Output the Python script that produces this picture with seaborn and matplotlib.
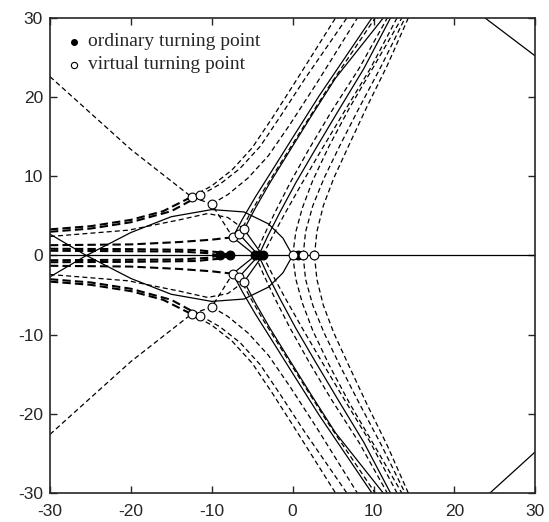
import numpy as np
import pandas as pd
import matplotlib
matplotlib.use("Agg")
import matplotlib.pyplot as plt
import seaborn as sns

sns.set_style("ticks")
plt.rcParams.update({
    "font.family": ["Liberation Sans", "DejaVu Sans"],
    "axes.unicode_minus": False,
    "xtick.direction": "in",
    "ytick.direction": "in",
    "xtick.top": True,
    "ytick.right": True,
    "xtick.major.size": 5,
    "ytick.major.size": 5,
    "xtick.major.pad": 8,
    "ytick.major.pad": 5,
})

# ── Stokes curves, upper half plane (lower half is the mirror image) ──
ellipse_x = [-30, -25.5, -20, -15, -10, -6, -3, -1.2, 0]
ellipse_y = [-2.7, 0, 2.9, 4.9, 5.8, 5.5, 4.0, 2.2, 0]

straight_x = [-30, -20, -12.5, -10, -7.4]
straight_y = [22.6, 13.4, 7.4, 6.5, 2.3]

thick1_x = [-30, -25, -20, -16, -12.5]
thick1_y = [3.3, 3.7, 4.5, 5.6, 7.4]
thick2_x = [-30, -25, -20, -15, -11.4]
thick2_y = [3.0, 3.4, 4.2, 5.6, 7.6]

thin_x = [-30, -20.3, -14, -10.5, -8, -6.0]
thin_y = [2.4, 3.2, 4.5, 5.3, 4.8, 3.3]

horiz1_x = [-30, -20, -14, -10, -7.4]
horiz1_y = [1.3, 1.4, 1.7, 2.0, 2.3]
horiz2_x = [-30, -20, -12, -9, -7.7]
horiz2_y = [0.85, 0.8, 0.7, 0.4, 0]
horiz3_x = [-30, -14, -10.5, -9.0]
horiz3_y = [0.6, 0.5, 0.3, 0]

link1_x = [-7.4, -4.6]
link1_y = [2.3, 0]
link2_x = [-6.6, -4.2]
link2_y = [2.7, 0]
link3_x = [-6.0, -3.7]
link3_y = [3.3, 0]

fan_x = [
    [-12.5, -10, -7.5, -5, -2.5, 0.5, 5.3],
    [-11.4, -9, -6.5, -4, -1.5, 1.5, 6.7],
    [-10, -8, -5.5, -3, -0.3, 3, 8.0],
    [-7.4, -6.2, -4.6, -2.5, 0.2, 3.3, 9.8],
    [-6.6, -5.3, -3.6, -1.4, 1.3, 4.4, 10.2],
    [-6.0, -4.6, -2.8, -0.5, 2.3, 5.3, 11.2],
    [-4.6, -3.6, -2.2, -0.3, 2.0, 4.8, 8.2, 11.7],
    [-4.2, -3.1, -1.6, 0.4, 2.8, 5.6, 8.8, 12.1],
    [-3.7, -2.5, -0.9, 1.2, 3.6, 6.4, 9.6, 12.9],
    [0, 0.4, 1.2, 2.5, 4.5, 7.0, 10.1, 13.5],
    [1.3, 1.6, 2.5, 3.9, 5.8, 8.2, 11.0, 13.9],
    [2.7, 3.0, 3.8, 5.1, 6.9, 9.1, 11.7, 14.3],
]
fan_y = [
    [7.4, 8.8, 10.8, 13.6, 17.4, 22.2, 30],
    [7.6, 9.0, 11.0, 13.8, 17.6, 22.3, 30],
    [6.5, 7.7, 9.8, 12.6, 16.6, 21.8, 30],
    [2.3, 4.6, 7.4, 10.8, 15.2, 20.2, 30],
    [2.7, 5.2, 8.2, 11.8, 16.2, 21.2, 30],
    [3.3, 6.0, 9.2, 13.0, 17.6, 22.4, 30],
    [0, 2.4, 5.4, 9.2, 13.4, 18.2, 23.6, 30],
    [0, 2.4, 5.4, 9.2, 13.4, 18.2, 23.6, 30],
    [0, 2.4, 5.4, 9.2, 13.4, 18.2, 23.6, 30],
    [0, 3, 6, 9.5, 13.8, 18.6, 24, 30],
    [0, 3, 6.3, 9.8, 13.8, 18.6, 24, 30],
    [0, 3, 6.3, 9.8, 13.8, 18.6, 24, 30],
]
fan_style = ["dash", "dash", "dash", "solid", "dash", "solid",
             "dash", "solid", "dash", "dash", "dash", "dash"]

corner_top_x = [23.8, 30]
corner_top_y = [30, 25.2]
corner_bot_x = [24.4, 30]
corner_bot_y = [-30, -24.8]

axis_x = [-30, 30]
axis_y = [0, 0]

# turning points
ordinary_x = [-9.0, -7.7, -4.6, -4.2, -3.7, 0.7]
ordinary_y = [0, 0, 0, 0, 0, 0]
virtual_x = [0, 1.3, 2.7, -12.5, -11.4, -10, -7.4, -6.6, -6.0,
             -12.5, -11.4, -10, -7.4, -6.6, -6.0]
virtual_y = [0, 0, 0, 7.4, 7.6, 6.5, 2.3, 2.7, 3.3,
             -7.4, -7.6, -6.5, -2.3, -2.7, -3.3]

# ── assemble curves ──
curves = [
    (ellipse_x, ellipse_y, "solid", True),
    (straight_x, straight_y, "dash", True),
    (thick1_x, thick1_y, "thick", True),
    (thick2_x, thick2_y, "thick", True),
    (thin_x, thin_y, "dash", True),
    (horiz1_x, horiz1_y, "thick", True),
    (horiz2_x, horiz2_y, "thick", True),
    (horiz3_x, horiz3_y, "thick", True),
    (link1_x, link1_y, "solid", True),
    (link2_x, link2_y, "solid", True),
    (link3_x, link3_y, "solid", True),
    (corner_top_x, corner_top_y, "solid", False),
    (corner_bot_x, corner_bot_y, "solid", False),
    (axis_x, axis_y, "solid", False),
]
for fx, fy, st in zip(fan_x, fan_y, fan_style):
    curves.append((fx, fy, st, True))

STYLES = {
    "solid": dict(lw=0.9, ls="-"),
    "dash": dict(lw=0.9, ls=(0, (4, 2.5))),
    "thick": dict(lw=1.5, ls=(0, (4, 2))),
}

fig, ax = plt.subplots(figsize=(5.49, 5.22), dpi=100)
fig.subplots_adjust(left=0.091, right=0.975, top=0.9655, bottom=0.0556)

for cx, cy, st, mirror in curves:
    signs = [1, -1] if mirror else [1]
    for s in signs:
        df = pd.DataFrame({"x": cx, "y": [s * v for v in cy]})
        sns.lineplot(data=df, x="x", y="y", sort=False, estimator=None,
                     color="black", ax=ax, **STYLES[st])

sns.scatterplot(x=ordinary_x, y=ordinary_y, color="black", s=40,
                edgecolor="black", linewidth=0.8, zorder=5, ax=ax)
sns.scatterplot(x=virtual_x, y=virtual_y, facecolor="white", s=40,
                edgecolor="black", linewidth=0.8, zorder=5, ax=ax)

# legend
serif = ["Liberation Serif", "DejaVu Serif"]
ax.plot([-27.0], [27.0], "o", color="black", ms=4)
ax.plot([-27.0], [24.1], "o", mfc="white", mec="black", ms=4.5, mew=0.8)
ax.text(-25.3, 27.0, "ordinary turning point", family=serif, fontsize=14,
        va="center", ha="left")
ax.text(-25.3, 24.1, "virtual turning point", family=serif, fontsize=14,
        va="center", ha="left")

ax.set_xlim(-30, 30)
ax.set_ylim(-30, 30)
ax.set_xticks([-30, -20, -10, 0, 10, 20, 30])
ax.set_yticks([-30, -20, -10, 0, 10, 20, 30])
ax.set_xlabel("")
ax.set_ylabel("")
ax.tick_params(labelsize=12.5, width=1)
for sp in ax.spines.values():
    sp.set_linewidth(1.2)

plt.savefig("out.png", dpi=100)
